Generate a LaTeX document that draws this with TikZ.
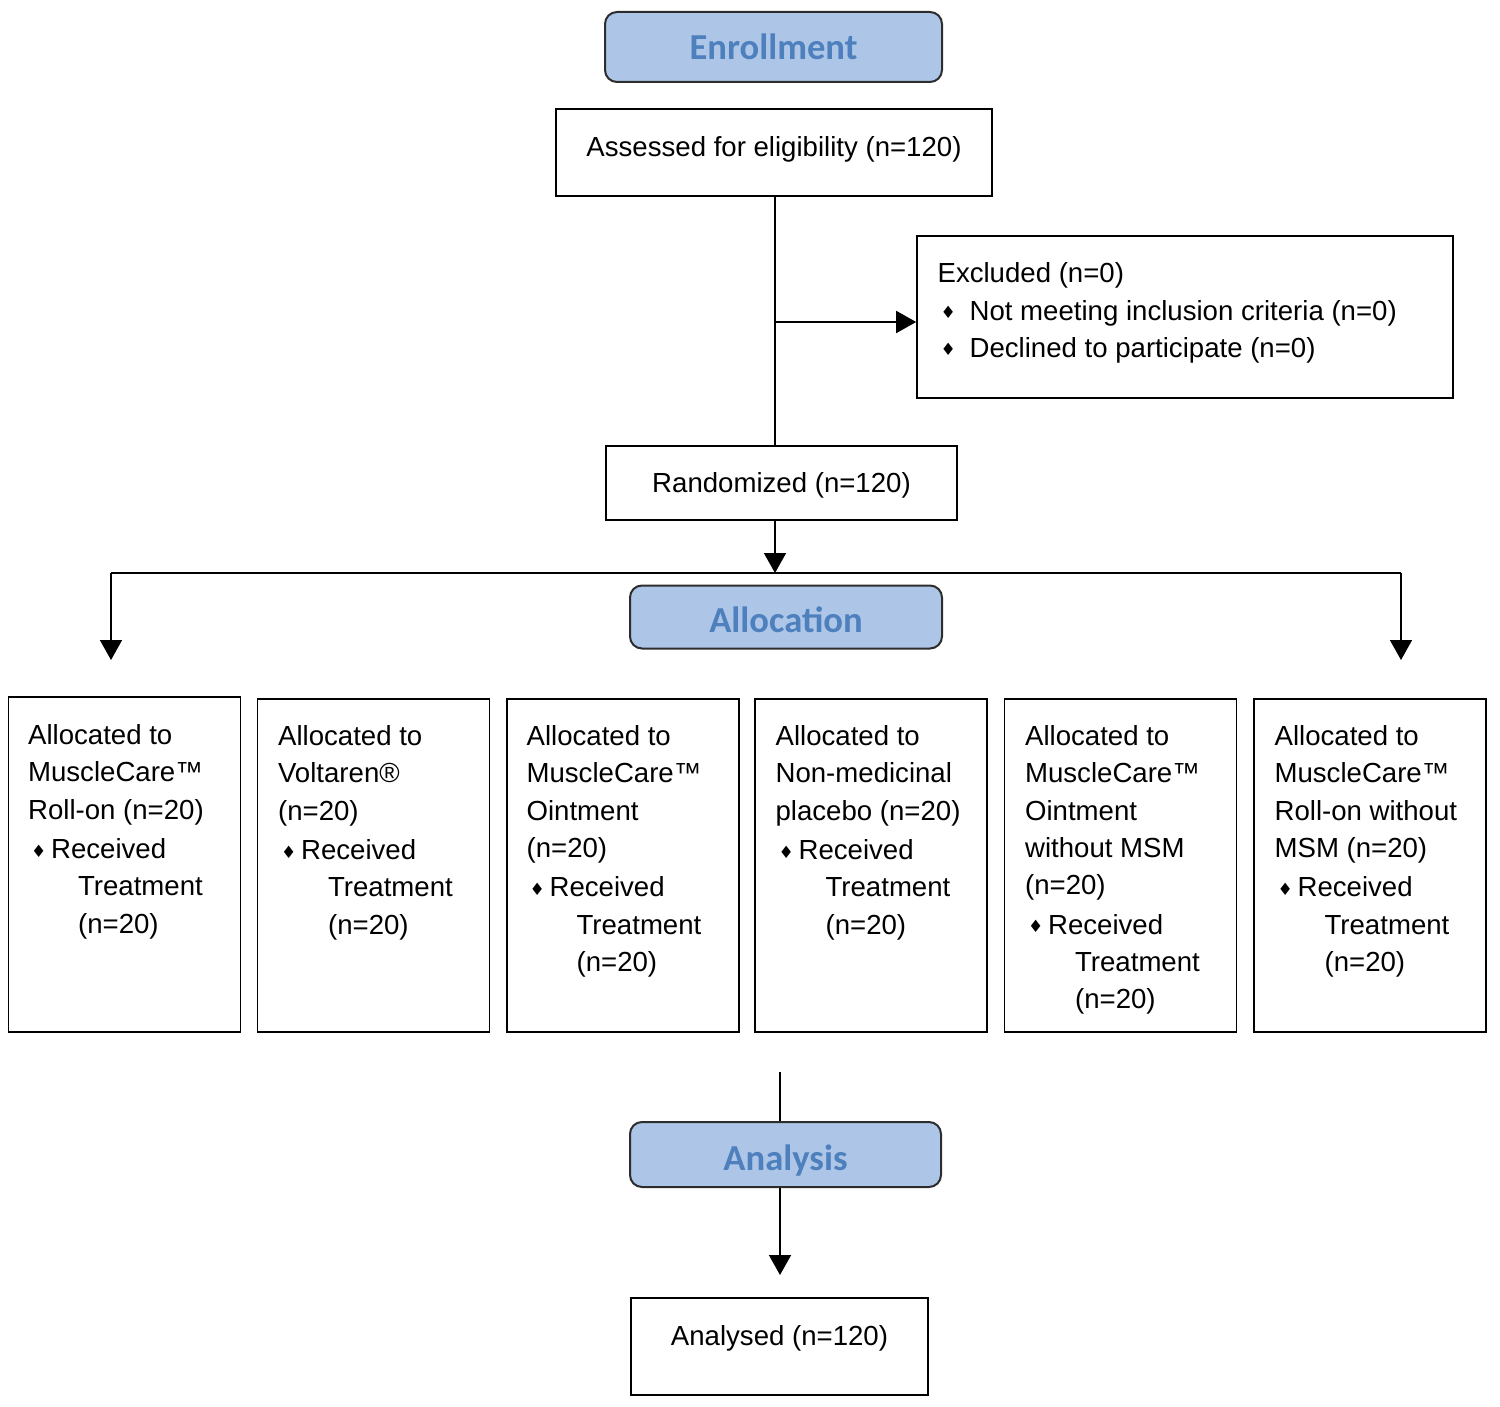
\documentclass[tikz,border=0pt]{standalone}
\usepackage{fontspec}
\setmainfont{Liberation Sans}
\newfontfamily\hdrfont{Carlito}
\newfontfamily\symfont{DejaVu Sans}
\usetikzlibrary{arrows.meta}
\definecolor{hdrfill}{RGB}{173,198,232}
\definecolor{hdrtext}{RGB}{78,128,189}
\definecolor{hdrline}{RGB}{45,45,45}
\newcommand{\bul}[1]{\makebox[#1][l]{\hspace{1.5pt}\raisebox{0.8pt}{\symfont\fontsize{8.5}{8.5}\selectfont ♦}}}
\newcommand{\ind}{\hspace*{25pt}}
\begin{document}
\begin{tikzpicture}[x=0.5pt,y=-0.5pt,
  hdr/.style={draw=hdrline, line width=1pt, fill=hdrfill, rounded corners=6pt,
    text=hdrtext, font=\hdrfont\bfseries\fontsize{18.3}{20}\selectfont, inner sep=0pt},
  plainbox/.style={draw=black, line width=0.8pt, inner sep=0pt,
    font=\fontsize{13.8}{16}\selectfont},
  abox/.style={draw=black, line width=0.8pt, inner sep=0pt, minimum width=116pt},
  atext/.style={anchor=north west, inner sep=0pt, align=left,
    font=\fontsize{13.8}{18.6}\selectfont},
  conn/.style={line width=0.8pt},
  arr/.style={line width=0.8pt, -{Triangle[length=10pt,width=11pt]}}
]
\useasboundingbox (0,0) rectangle (1500,1407);

% headers
\node[hdr, minimum width=168.5pt, minimum height=35pt, text height=12.6pt, text depth=0pt] (enr) at (773.5,47) {Enrollment};
\node[hdr, minimum width=156pt, minimum height=31.5pt, text height=15.6pt, text depth=0pt] (alloc) at (786,617) {Allocation};
\node[hdr, minimum width=155.5pt, minimum height=32.5pt, text height=15.5pt, text depth=0pt] (anal) at (785.5,1154.5) {Analysis};

% simple boxes
\node[plainbox, minimum width=218pt, minimum height=43.5pt, text height=9pt, text depth=4.5pt] (assess) at (774,152.5) {Assessed for eligibility (n=120)};
\node[plainbox, minimum width=175.5pt, minimum height=37pt, text height=10pt, text depth=1pt] (rand) at (781.5,483) {Randomized (n=120)};
\node[plainbox, minimum width=148.5pt, minimum height=48.5pt, text height=5pt, text depth=6.5pt] (analysed) at (779.5,1346.5) {Analysed (n=120)};

% excluded
\node[draw=black, line width=0.8pt, inner sep=0pt, minimum width=268pt, minimum height=81pt] (excl) at (1185,317) {};
\node[atext, font=\fontsize{13.8}{18.75}\selectfont] (exclT) at ([shift={(21,27)}]excl.north west)
  {Excluded (n=0)\\
   \bul{16pt}Not meeting inclusion criteria (n=0)\\
   \bul{16pt}Declined to participate (n=0)};

% allocation boxes
\node[abox, minimum height=167.5pt] (b1) at (124.5,864.5) {};
\node[abox, minimum height=166.5pt] (b2) at (373.5,865.5) {};
\node[abox, minimum height=166.5pt] (b3) at (623,865.5) {};
\node[abox, minimum height=166.5pt] (b4) at (871,865.5) {};
\node[abox, minimum height=166.5pt] (b5) at (1120.5,865.5) {};
\node[abox, minimum height=166.5pt] (b6) at (1370,865.5) {};

\node[atext] (t1) at ([shift={(20,28)}]b1.north west)
  {Allocated to\\ MuscleCare™\\ Roll-on (n=20)\\[1.2pt]
   \bul{11.5pt}Received\\ \ind Treatment\\ \ind (n=20)};
\node[atext] (t2) at ([shift={(21,27)}]b2.north west)
  {Allocated to\\ Voltaren®\\ (n=20)\\[1.2pt]
   \bul{11.5pt}Received\\ \ind Treatment\\ \ind (n=20)};
\node[atext] (t3) at ([shift={(20,27)}]b3.north west)
  {Allocated to\\ MuscleCare™\\ Ointment\\ (n=20)\\[1.2pt]
   \bul{11.5pt}Received\\ \ind Treatment\\ \ind (n=20)};
\node[atext] (t4) at ([shift={(21,27)}]b4.north west)
  {Allocated to\\ Non-medicinal\\ placebo (n=20)\\[1.2pt]
   \bul{11.5pt}Received\\ \ind Treatment\\ \ind (n=20)};
\node[atext] (t5) at ([shift={(21,27)}]b5.north west)
  {Allocated to\\ MuscleCare™\\ Ointment\\ without MSM\\ (n=20)\\[1.2pt]
   \bul{11.5pt}Received\\ \ind Treatment\\ \ind (n=20)};
\node[atext] (t6) at ([shift={(21,27)}]b6.north west)
  {Allocated to\\ MuscleCare™\\ Roll-on without\\ MSM (n=20)\\[1.2pt]
   \bul{11.5pt}Received\\ \ind Treatment\\ \ind (n=20)};

% connectors
\coordinate (exjoin) at (775,322);
\coordinate (split) at (775,573);
\coordinate (lft) at (111,573);
\coordinate (rgt) at (1401,573);
\coordinate (lftend) at (111,660);
\coordinate (rgtend) at (1401,660);
\coordinate (antop) at (780,1072);
\coordinate (anend) at (780,1275);

\draw[conn] (exjoin |- assess.south) -- (exjoin |- rand.north);
\draw[arr] (exjoin) -- (exjoin -| excl.west);
\draw[arr] (split |- rand.south) -- (split);
\draw[conn] (lft) -- (rgt);
\draw[arr] (lft) -- (lftend);
\draw[arr] (rgt) -- (rgtend);
\draw[conn] (antop) -- (antop |- anal.north);
\draw[arr] (antop |- anal.south) -- (anend);
\end{tikzpicture}
\end{document}
